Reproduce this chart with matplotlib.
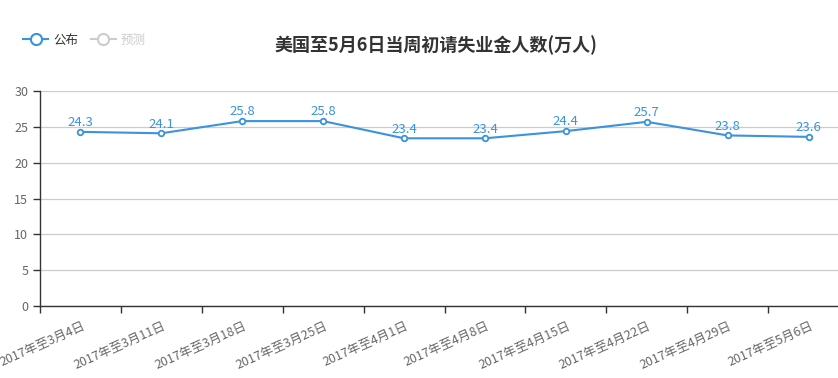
import matplotlib
matplotlib.use("Agg")
import matplotlib.pyplot as plt
from matplotlib.lines import Line2D
import matplotlib.transforms as mtransforms

plt.rcParams['font.family'] = ['Noto Sans CJK SC', 'DejaVu Sans']

categories = ["2017年至3月4日", "2017年至3月11日", "2017年至3月18日", "2017年至3月25日",
              "2017年至4月1日", "2017年至4月8日", "2017年至4月15日", "2017年至4月22日",
              "2017年至4月29日", "2017年至5月6日"]
published = [24.3, 24.1, 25.8, 25.8, 23.4, 23.4, 24.4, 25.7, 23.8, 23.6]
yticks = [0, 5, 10, 15, 20, 25, 30]
title = "美国至5月6日当周初请失业金人数(万人)"
legend_labels = ["公布", "预测"]

W, H = 838, 378
fig = plt.figure(figsize=(W / 100, H / 100), dpi=100)
left, right, top, bottom = 40, 849, 91, 306
ax = fig.add_axes([left / W, (H - bottom) / H, (right - left) / W, (bottom - top) / H])

blue = "#3a93dc"
x = list(range(len(categories)))
ax.plot(x, published, color=blue, lw=1.5, marker='o', ms=4, mfc='white', mec=blue, mew=1.3, zorder=3)
for xi, v in zip(x, published):
    ax.annotate(f"{v}", (xi, v), xytext=(0, 2), textcoords='offset points',
                ha='center', va='bottom', color=blue, fontsize=9.5)

ax.set_xlim(-0.5, len(categories) - 0.5)
ax.set_ylim(0, 30)
ax.set_yticks(yticks)
ax.grid(axis='y', color='#cccccc', lw=0.9)
ax.set_axisbelow(True)

for s in ['top', 'right']:
    ax.spines[s].set_visible(False)
for s in ['left', 'bottom']:
    ax.spines[s].set_color('#333333')
    ax.spines[s].set_linewidth(1.0)

ax.tick_params(axis='y', colors='#333333', labelcolor='#666666', labelsize=9, length=5, width=1)
ax.set_xticks(x)
ax.set_xticklabels(categories, rotation=24, ha='right', va='top', rotation_mode='anchor',
                   color='#666666', fontsize=9)
ax.tick_params(axis='x', which='major', length=0, pad=10)
ax.set_xticks([i - 0.5 for i in range(len(categories) + 1)], minor=True)
ax.tick_params(axis='x', which='minor', length=5, width=1, color='#333333')
offset = mtransforms.ScaledTranslation(1 / 100, 0, fig.dpi_scale_trans)
for lbl in ax.get_xticklabels():
    lbl.set_transform(lbl.get_transform() + offset)

fig.text(436 / W, 1 - 45 / H, title, ha='center', va='center', fontsize=13,
         fontweight='bold', color='#333333')

handles = [Line2D([0], [0], color=blue, lw=1.5, marker='o', ms=8, mfc='white', mec=blue, mew=1.5),
           Line2D([0], [0], color='#cccccc', lw=1.5, marker='o', ms=8, mfc='white', mec='#cccccc', mew=1.5)]
leg = fig.legend(handles, legend_labels, loc='center left', bbox_to_anchor=(12 / W, 1 - 40 / H),
                 ncol=2, frameon=False, fontsize=9, handlelength=2.0, handletextpad=0.4,
                 columnspacing=1.0)
leg.get_texts()[0].set_color('#333333')
leg.get_texts()[1].set_color('#cccccc')

fig.savefig("out.png", dpi=100)
